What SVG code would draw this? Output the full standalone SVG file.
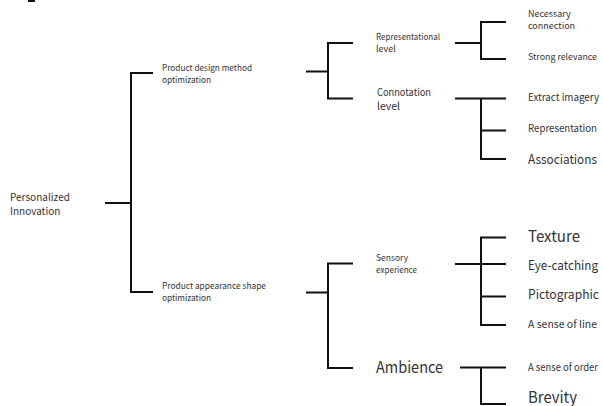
<svg xmlns="http://www.w3.org/2000/svg" width="603" height="406" viewBox="0 0 603 406">
<style>
text{font-family:"Noto Sans CJK SC","Noto Sans",sans-serif;fill:#333}
.c path{fill:none;stroke:#111;stroke-width:2}
</style>
<rect width="603" height="406" fill="#fff"/>
<rect x="28" y="0" width="7" height="2" fill="#111"/>
<g class="c" id="connectors">
<path d="M105 203H131M153 73H131V292H153"/>
<path d="M306 71.5H328M353 43H328V98.5H353"/>
<path d="M306 292.5H328M353 263.5H328V368H353"/>
<path d="M455 43H481M506 22H481V59H506"/>
<path d="M455 98.5H506M481 98.5V159H506M481 130.5H506"/>
<path d="M455 264H506M506 237.5H481V325H506M481 296.5H506"/>
<path d="M460 367.5H506M481 367.5V404H506"/>
</g>
<g id="n-root"><text x="10" y="201" font-size="10">Personalized</text><text x="10" y="215" font-size="10">Innovation</text></g>
<g id="n-pdm"><text x="162" y="71" font-size="8.5" textLength="90" lengthAdjust="spacingAndGlyphs">Product design method</text><text x="162" y="83" font-size="8.5" textLength="49" lengthAdjust="spacingAndGlyphs">optimization</text></g>
<g id="n-pas"><text x="162" y="289" font-size="8.5" textLength="104" lengthAdjust="spacingAndGlyphs">Product appearance shape</text><text x="162" y="301" font-size="8.5" textLength="49" lengthAdjust="spacingAndGlyphs">optimization</text></g>
<g id="n-rep"><text x="376" y="40" font-size="8.5" textLength="64" lengthAdjust="spacingAndGlyphs">Representational</text><text x="376" y="52" font-size="9">level</text></g>
<g id="n-con"><text x="377" y="96" font-size="10" textLength="54" lengthAdjust="spacingAndGlyphs">Connotation</text><text x="377" y="110" font-size="10.5">level</text></g>
<g id="n-sen"><text x="376" y="261" font-size="8.5">Sensory</text><text x="376" y="273" font-size="8.5" textLength="41" lengthAdjust="spacingAndGlyphs">experience</text></g>
<g id="n-amb"><text x="376" y="373" font-size="15.5" textLength="67" lengthAdjust="spacingAndGlyphs">Ambience</text></g>
<g id="n-nec"><text x="528" y="17" font-size="9">Necessary</text><text x="528" y="29" font-size="9">connection</text></g>
<g id="n-str"><text x="528" y="60" font-size="9" textLength="69" lengthAdjust="spacingAndGlyphs">Strong relevance</text></g>
<g id="n-ext"><text x="528" y="101" font-size="10.5" textLength="71" lengthAdjust="spacingAndGlyphs">Extract imagery</text></g>
<g id="n-repr"><text x="528" y="132" font-size="10.5" textLength="69" lengthAdjust="spacingAndGlyphs">Representation</text></g>
<g id="n-ass"><text x="528" y="164" font-size="13" textLength="69" lengthAdjust="spacingAndGlyphs">Associations</text></g>
<g id="n-tex"><text x="528" y="242" font-size="15.5" textLength="52" lengthAdjust="spacingAndGlyphs">Texture</text></g>
<g id="n-eye"><text x="528" y="270" font-size="12.5" textLength="70" lengthAdjust="spacingAndGlyphs">Eye-catching</text></g>
<g id="n-pic"><text x="528" y="299" font-size="13" textLength="71" lengthAdjust="spacingAndGlyphs">Pictographic</text></g>
<g id="n-line"><text x="528" y="328" font-size="10" textLength="69" lengthAdjust="spacingAndGlyphs">A sense of line</text></g>
<g id="n-ord"><text x="528" y="371" font-size="10" textLength="70" lengthAdjust="spacingAndGlyphs">A sense of order</text></g>
<g id="n-bre"><text x="528" y="403" font-size="15.5" textLength="49" lengthAdjust="spacingAndGlyphs">Brevity</text></g>
</svg>
